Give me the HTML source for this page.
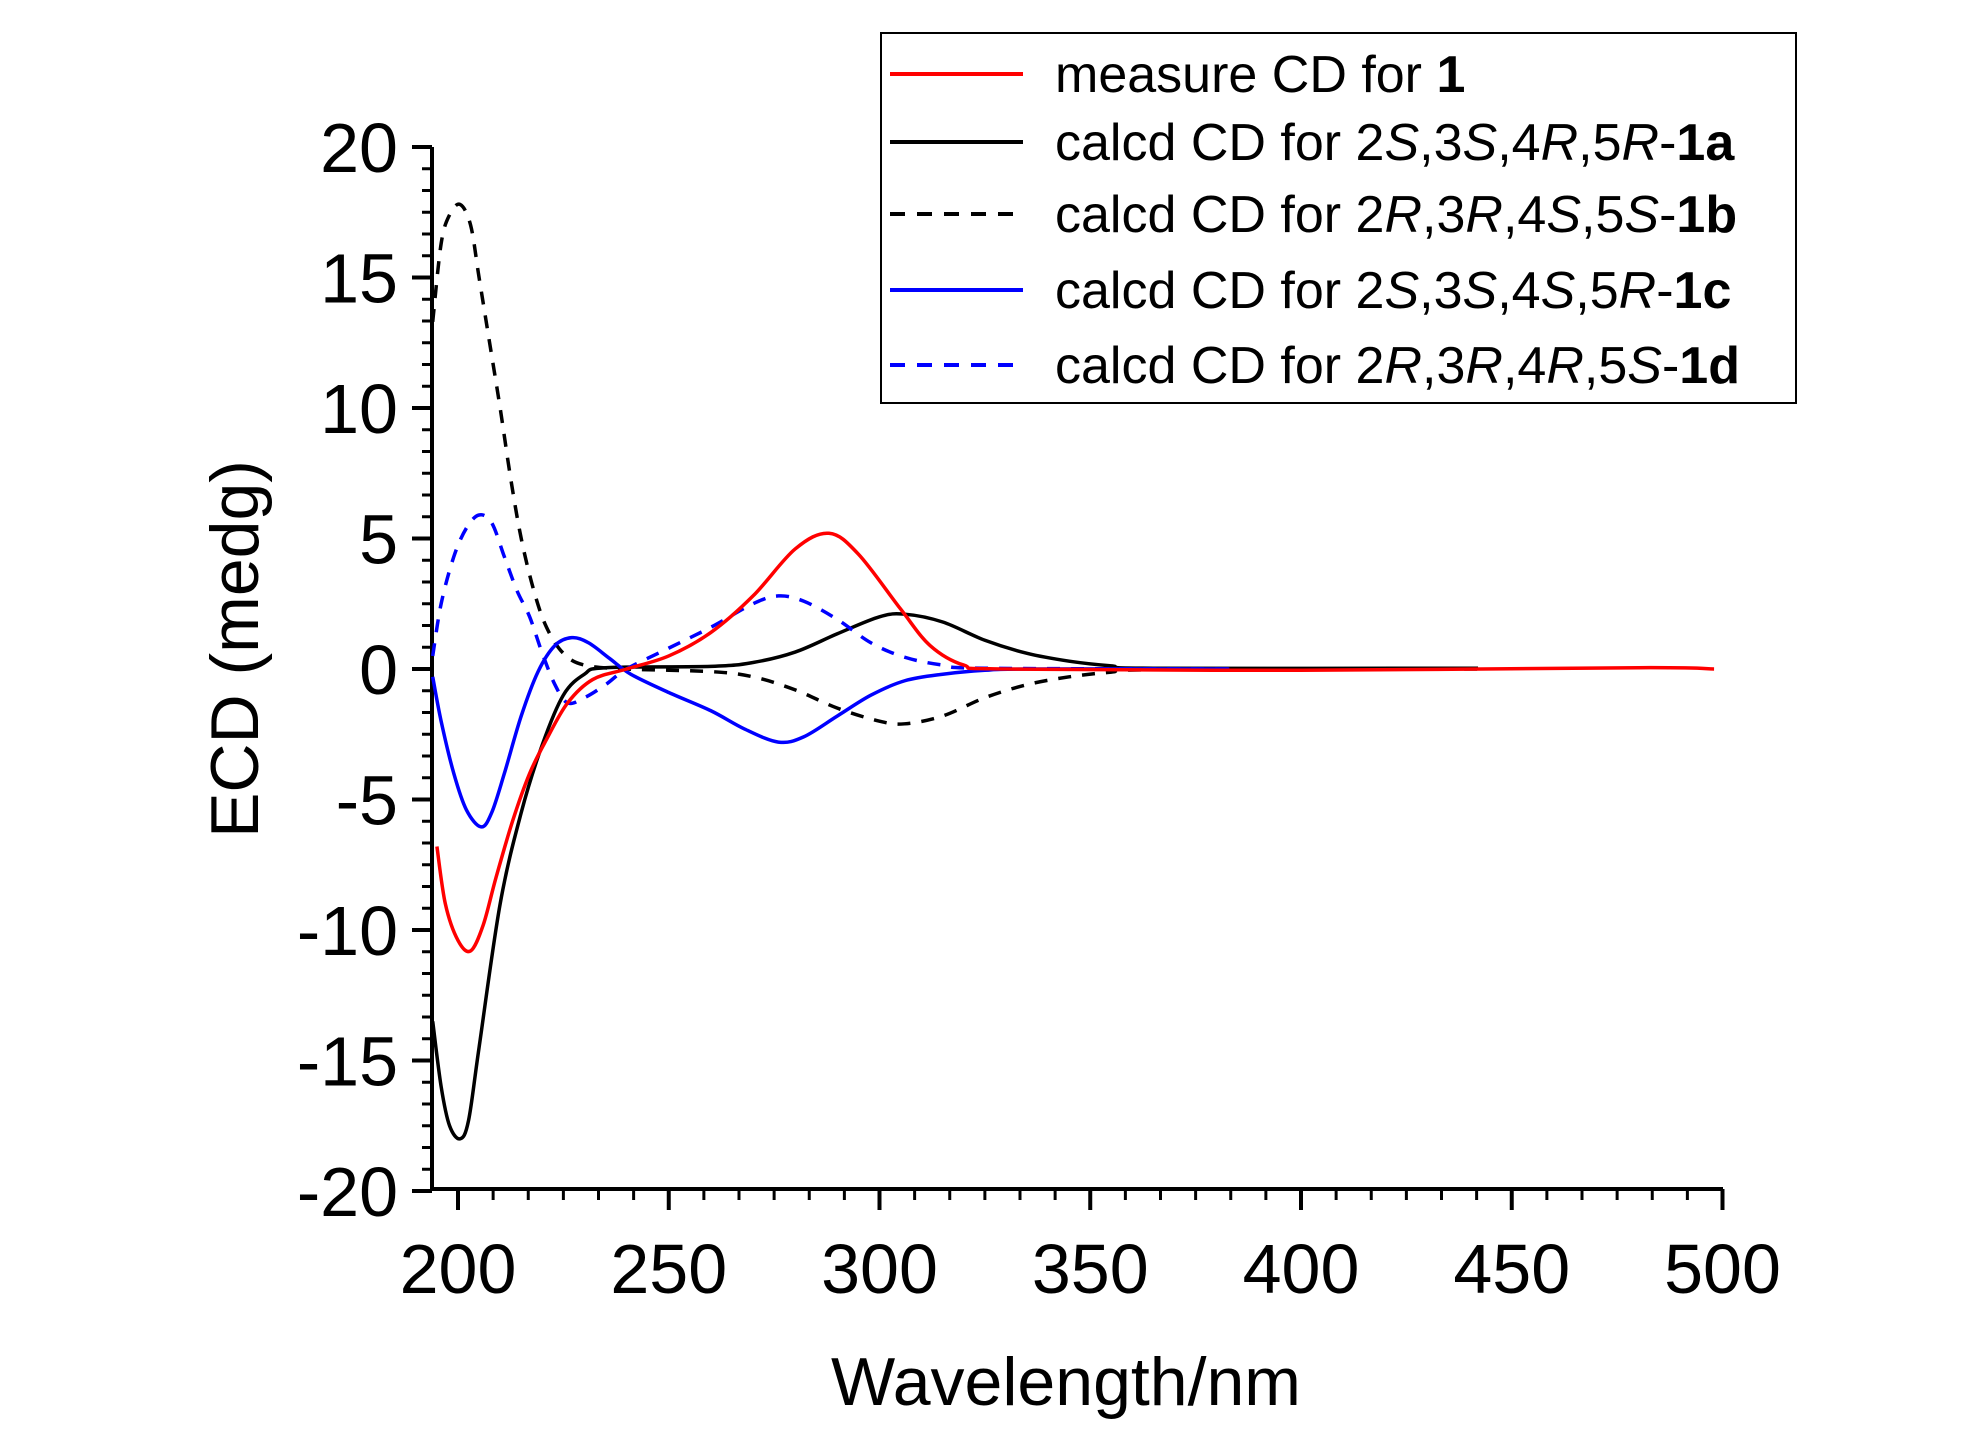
<!DOCTYPE html>
<html><head><meta charset="utf-8"><style>
html,body{margin:0;padding:0;background:#fff;}
svg{display:block;font-family:"Liberation Sans",Arial,sans-serif;}
</style></head><body>
<svg id="s" width="1984" height="1434" viewBox="0 0 1984 1434" xmlns="http://www.w3.org/2000/svg">
<g id="ax" stroke="#000" stroke-width="4" fill="none"></g>
<g id="cv" fill="none" stroke-width="3.5"></g>
<g font-size="70" fill="#000" text-anchor="end" id="yl"></g>
<g font-size="70" fill="#000" text-anchor="middle" id="xl"></g>
<text x="1066" y="1405" font-size="68" text-anchor="middle">Wavelength/nm</text>
<text transform="translate(258,649) rotate(-90)" font-size="68" text-anchor="middle">ECD (medg)</text>
<rect x="881" y="33" width="915" height="370" fill="#fff" stroke="#000" stroke-width="2"/>
<g stroke-width="4" fill="none">
<line x1="890" y1="74" x2="1023" y2="74" stroke="#f00"/>
<line x1="890" y1="142" x2="1023" y2="142" stroke="#000"/>
<line x1="890" y1="214" x2="1023" y2="214" stroke="#000" stroke-dasharray="15,12"/>
<line x1="890" y1="290" x2="1023" y2="290" stroke="#00f"/>
<line x1="890" y1="365" x2="1023" y2="365" stroke="#00f" stroke-dasharray="15,12"/>
</g>
<g font-size="52" fill="#000">
<text x="1055" y="92">measure CD for <tspan font-weight="bold">1</tspan></text>
<text x="1055" y="160">calcd CD for 2<tspan font-style="italic">S</tspan>,3<tspan font-style="italic">S</tspan>,4<tspan font-style="italic">R</tspan>,5<tspan font-style="italic">R</tspan>-<tspan font-weight="bold">1a</tspan></text>
<text x="1055" y="232">calcd CD for 2<tspan font-style="italic">R</tspan>,3<tspan font-style="italic">R</tspan>,4<tspan font-style="italic">S</tspan>,5<tspan font-style="italic">S</tspan>-<tspan font-weight="bold">1b</tspan></text>
<text x="1055" y="308">calcd CD for 2<tspan font-style="italic">S</tspan>,3<tspan font-style="italic">S</tspan>,4<tspan font-style="italic">S</tspan>,5<tspan font-style="italic">R</tspan>-<tspan font-weight="bold">1c</tspan></text>
<text x="1055" y="383">calcd CD for 2<tspan font-style="italic">R</tspan>,3<tspan font-style="italic">R</tspan>,4<tspan font-style="italic">R</tspan>,5<tspan font-style="italic">S</tspan>-<tspan font-weight="bold">1d</tspan></text>
</g>
</svg>
<script>
var NS="http://www.w3.org/2000/svg";
function X(n){return 458+(n-200)*4.215;}
function Y(v){return 669-v*26.1;}
function el(p,t,a,txt){var e=document.createElementNS(NS,t);for(var k in a)e.setAttribute(k,a[k]);if(txt!=null)e.textContent=txt;p.appendChild(e);return e;}
var ax=document.getElementById('ax');
el(ax,'line',{x1:432,y1:147,x2:432,y2:1191});
el(ax,'line',{x1:430,y1:1189,x2:1723,y2:1189});
for(var v=-20;v<=20;v+=5){var y=Y(v);el(ax,'line',{x1:412,y1:y,x2:432,y2:y});
 el(document.getElementById('yl'),'text',{x:398,y:y+25},String(v));
 if(v<20)for(var i=1;i<6;i++){var yy=y-i*130.5/6;el(ax,'line',{x1:422,y1:yy,x2:432,y2:yy,'stroke-width':3});}}
for(var n=200;n<=500;n+=50){var x=X(n);el(ax,'line',{x1:x,y1:1189,x2:x,y2:1210});
 el(document.getElementById('xl'),'text',{x:x,y:1293},String(n));
 if(n<500)for(var i=1;i<6;i++){var xx=x+i*210.75/6;el(ax,'line',{x1:xx,y1:1189,x2:xx,y2:1200,'stroke-width':3});}}
function path(pts,col,dash){var P=pts.map(function(p){return [X(p[0]),Y(p[1])];});
 var d="M"+P[0][0]+","+P[0][1];
 for(var i=0;i<P.length-1;i++){var p0=P[Math.max(i-1,0)],p1=P[i],p2=P[i+1],p3=P[Math.min(i+2,P.length-1)];
  var c1=[p1[0]+(p2[0]-p0[0])/6,p1[1]+(p2[1]-p0[1])/6],c2=[p2[0]-(p3[0]-p1[0])/6,p2[1]-(p3[1]-p1[1])/6];
  d+="C"+c1+" "+c2+" "+p2;}
 var a={d:d,stroke:col};if(dash)a['stroke-dasharray']=dash;el(document.getElementById('cv'),'path',a);}
path([[194,-13.5],[196,-16],[198,-17.5],[200.5,-18],[202.5,-17.3],[205,-14.5],[210,-9],[215,-5.5],[220,-2.9],[225,-1],[230,-0.2],[235,0.05],[260,0.1],[270,0.25],[280,0.65],[290,1.35],[300,2],[306,2.1],[315,1.8],[325,1.1],[335,0.6],[345,0.3],[355,0.12],[365,0.03],[442,0.03]],"#000");
path([[194,13.3],[196,16.3],[198,17.4],[200.5,17.8],[203,17],[205,15],[207.5,12.5],[210,10],[212.5,7.3],[215,5],[218,3],[221,1.6],[225,0.6],[230,0.15],[240,0],[260,-0.1],[270,-0.3],[280,-0.8],[290,-1.5],[300,-2],[306,-2.1],[315,-1.8],[325,-1.1],[335,-0.6],[345,-0.3],[355,-0.12],[365,-0.03],[442,0]],"#000","13,11");
path([[194,0.5],[196,2.5],[199,4.3],[202,5.4],[205,5.9],[208,5.6],[211,4.3],[214,3],[217,2],[220,0.6],[223,-0.6],[226,-1.3],[230,-1.1],[235,-0.6],[240,0],[250,0.8],[260,1.6],[270,2.5],[276,2.8],[282,2.6],[290,1.9],[298,1],[306,0.45],[315,0.15],[325,0.03],[383,0]],"#00f","13,11");
path([[194,-0.3],[196,-2],[199,-4],[202,-5.4],[205.5,-6.05],[208,-5.5],[211,-4],[215,-1.8],[219,-0.1],[223,0.9],[227,1.2],[231,1.0],[236,0.4],[241,-0.2],[250,-0.9],[260,-1.6],[268,-2.3],[276,-2.8],[282,-2.6],[290,-1.8],[298,-1],[306,-0.45],[315,-0.2],[325,-0.05],[335,0],[383,0]],"#00f");
path([[195,-6.8],[197,-9.0],[200,-10.4],[203,-10.8],[206,-9.8],[209,-8],[213,-5.8],[217,-4],[221,-2.7],[226,-1.3],[232,-0.4],[240,0],[250,0.5],[260,1.4],[270,2.8],[280,4.6],[288,5.2],[295,4.4],[305,2.3],[312,0.9],[320,0.15],[330,0],[400,-0.05],[480,0.05],[498,0]],"#f00");
</script>
</body></html>
